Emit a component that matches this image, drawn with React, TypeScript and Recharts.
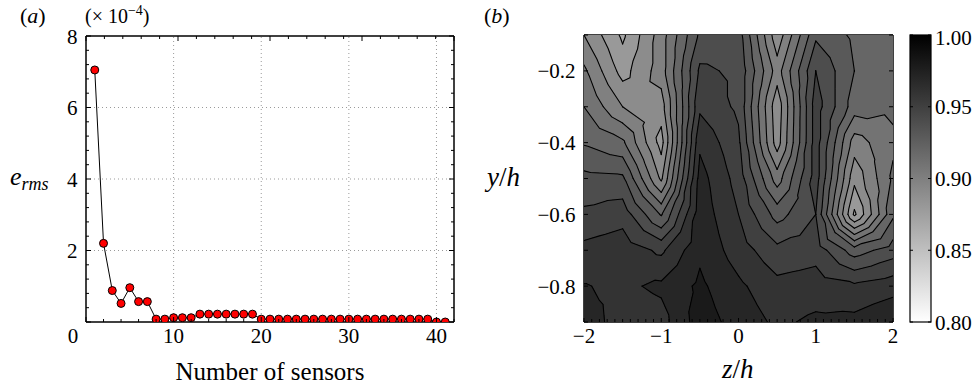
import React from 'react';
import { LineChart, Line, XAxis, YAxis, ReferenceLine, ScatterChart, Scatter } from 'recharts';

const FONT = '"Liberation Serif", "Times New Roman", serif';

// ---------- Panel (a) data ----------
const SENSOR_COUNTS = [1, 2, 3, 4, 5, 6, 7, 8, 9, 10, 11, 12, 13, 14, 15, 16, 17, 18, 19, 20, 21, 22, 23, 24, 25, 26, 27, 28, 29, 30, 31, 32, 33, 34, 35, 36, 37, 38, 39, 40, 41];
const E_RMS = [7.05, 2.2, 0.88, 0.52, 0.96, 0.57, 0.57, 0.08, 0.08, 0.12, 0.12, 0.12,
  0.22, 0.22, 0.22, 0.22, 0.22, 0.22, 0.22,
  0.08, 0.08, 0.08, 0.08, 0.08, 0.08, 0.08, 0.08, 0.08, 0.08, 0.08, 0.08, 0.08, 0.08, 0.08, 0.08, 0.08, 0.08, 0.08, 0.08,
  0.0, 0.0];
const A_X_LABELS = [0, 10, 20, 30, 40];
const A_Y_LABELS = [2, 4, 6, 8];
const A_X_GRID = [10, 20, 30, 40];
const A_Y_GRID = [2, 4, 6];
const A_X_TICKS = [0, 2, 4, 6, 8, 10, 12, 14, 16, 18, 20, 22, 24, 26, 28, 30, 32, 34, 36, 38, 40, 42];
const A_Y_TICKS = [0, 0.4, 0.8, 1.2, 1.6, 2, 2.4, 2.8, 3.2, 3.6, 4, 4.4, 4.8, 5.2, 5.6, 6, 6.4, 6.8, 7.2, 7.6, 8];

// ---------- Panel (b) data ----------
const Z_COORDS = [-2, -1.5, -1, -0.5, 0, 0.5, 1, 1.5, 2];
const Y_COORDS = [-0.1, -0.2, -0.3, -0.4, -0.5, -0.6, -0.7, -0.8, -0.9];
const ROW_Y01 = [0.900, 0.878, 0.905, 0.942, 0.945, 0.893, 0.938, 0.928, 0.926];
const ROW_Y02 = [0.912, 0.886, 0.905, 0.952, 0.948, 0.905, 0.950, 0.930, 0.925];
const ROW_Y03 = [0.920, 0.900, 0.895, 0.958, 0.948, 0.893, 0.955, 0.925, 0.922];
const ROW_Y04 = [0.929, 0.922, 0.886, 0.968, 0.952, 0.895, 0.955, 0.905, 0.918];
const ROW_Y05 = [0.943, 0.942, 0.898, 0.974, 0.956, 0.915, 0.955, 0.893, 0.922];
const ROW_Y06 = [0.952, 0.956, 0.929, 0.976, 0.960, 0.936, 0.950, 0.878, 0.928];
const ROW_Y07 = [0.963, 0.966, 0.958, 0.978, 0.965, 0.953, 0.956, 0.935, 0.945];
const ROW_Y08 = [0.9705, 0.968, 0.972, 0.982, 0.972, 0.963, 0.965, 0.962, 0.966];
const ROW_Y09 = [0.978, 0.963, 0.966, 0.985, 0.976, 0.968, 0.972, 0.973, 0.979];
const GRID = [ROW_Y01, ROW_Y02, ROW_Y03, ROW_Y04, ROW_Y05, ROW_Y06, ROW_Y07, ROW_Y08, ROW_Y09];
const LEVELS = [0.87, 0.88, 0.89, 0.90, 0.91, 0.92, 0.93, 0.94, 0.95, 0.96, 0.97, 0.98];
const B_X_LABELS = [-2, -1, 0, 1, 2];
const B_Y_LABELS = [-0.2, -0.4, -0.6, -0.8];
const CB_TICKS = [0.8, 0.85, 0.9, 0.95, 1.0];

// ---------- layout ----------
const B_PLOT_W = 309;
const B_PLOT_H = 287;
const CELL_W = B_PLOT_W / (Z_COORDS.length - 1);
const CELL_H = B_PLOT_H / (Y_COORDS.length - 1);
const TICK_FS = 21;

const near = (a: number, b: number) => Math.abs(a - b) < 1e-6;
const fmtNum = (v: number, d: number) => (v < 0 ? '\u2212' : '') + Math.abs(v).toFixed(d);

const gray = (v: number) => {
  const g = Math.max(0, Math.min(255, Math.round(255 * (1 - (v - 0.8) / 0.2))));
  return `rgb(${g},${g},${g})`;
};

type Pt = { x: number; y: number; v: number };
function clip(poly: Pt[], level: number, keepAbove: boolean): Pt[] {
  const out: Pt[] = [];
  const inside = (p: Pt) => (keepAbove ? p.v >= level : p.v <= level);
  for (let k = 0; k < poly.length; k++) {
    const a = poly[k];
    const b = poly[(k + 1) % poly.length];
    const ia = inside(a);
    const ib = inside(b);
    if (ia) out.push(a);
    if (ia !== ib) {
      const t = (level - a.v) / (b.v - a.v);
      out.push({ x: a.x + t * (b.x - a.x), y: a.y + t * (b.y - a.y), v: level });
    }
  }
  return out;
}

function cellTriangles(cx: number, cy: number, p: any): Pt[][] {
  const hw = CELL_W / 2;
  const hh = CELL_H / 2;
  const tl = { x: cx - hw, y: cy - hh, v: p.tl };
  const tr = { x: cx + hw, y: cy - hh, v: p.tr };
  const br = { x: cx + hw, y: cy + hh, v: p.br };
  const bl = { x: cx - hw, y: cy + hh, v: p.bl };
  const c = { x: cx, y: cy, v: (p.tl + p.tr + p.br + p.bl) / 4 };
  return [[tl, tr, c], [tr, br, c], [br, bl, c], [bl, tl, c]];
}

const CELLS: any[] = [];
for (let i = 0; i < Y_COORDS.length - 1; i++) {
  for (let j = 0; j < Z_COORDS.length - 1; j++) {
    CELLS.push({
      z: (Z_COORDS[j] + Z_COORDS[j + 1]) / 2,
      y: (Y_COORDS[i] + Y_COORDS[i + 1]) / 2,
      tl: GRID[i][j], tr: GRID[i][j + 1], bl: GRID[i + 1][j], br: GRID[i + 1][j + 1],
    });
  }
}

const ContourFill = (props: any) => {
  const { cx, cy, payload } = props;
  if (cx == null || cy == null) return <g />;
  const bounds = [-Infinity, ...LEVELS, Infinity];
  const paths: React.ReactNode[] = [];
  cellTriangles(cx, cy, payload).forEach((tri, ti) => {
    for (let k = 0; k < bounds.length - 1; k++) {
      const lo = bounds[k];
      const hi = bounds[k + 1];
      let poly = tri;
      if (isFinite(lo)) poly = clip(poly, lo, true);
      if (poly.length >= 3 && isFinite(hi)) poly = clip(poly, hi, false);
      if (poly.length < 3) continue;
      const col = gray(isFinite(lo) ? lo : LEVELS[0] - 0.01);
      const d = poly.map((q, n) => `${n ? 'L' : 'M'}${q.x.toFixed(2)},${q.y.toFixed(2)}`).join(' ') + 'Z';
      paths.push(<path key={`${ti}-${k}`} d={d} fill={col} stroke={col} strokeWidth={1} strokeLinejoin="round" shapeRendering="crispEdges" />);
    }
  });
  return <g>{paths}</g>;
};

const ContourLines = (props: any) => {
  const { cx, cy, payload } = props;
  if (cx == null || cy == null) return <g />;
  let d = '';
  cellTriangles(cx, cy, payload).forEach((tri) => {
    LEVELS.forEach((L) => {
      const pts: { x: number; y: number }[] = [];
      for (let k = 0; k < 3; k++) {
        const a = tri[k];
        const b = tri[(k + 1) % 3];
        if ((a.v >= L) !== (b.v >= L)) {
          const t = (L - a.v) / (b.v - a.v);
          pts.push({ x: a.x + t * (b.x - a.x), y: a.y + t * (b.y - a.y) });
        }
      }
      if (pts.length === 2) {
        d += `M${pts[0].x.toFixed(2)},${pts[0].y.toFixed(2)} L${pts[1].x.toFixed(2)},${pts[1].y.toFixed(2)} `;
      }
    });
  });
  return <path d={d} fill="none" stroke="#000" strokeWidth={1.1} strokeLinecap="round" />;
};

// ---------- tick renderers ----------
const txtStyle = { fontFamily: FONT, fontSize: TICK_FS };
const makeTick = (
  orient: 'left' | 'right' | 'top' | 'bottom',
  labels: number[],
  majorLen: number,
  minorLen: number,
  fmt?: (v: number) => string,
  labelDx?: (v: number) => number,
) => (props: any) => {
  const { x, y, payload } = props;
  const v = payload.value as number;
  const isMajor = labels.some((m) => near(m, v));
  const len = isMajor ? majorLen : minorLen;
  let line;
  let text = null;
  if (orient === 'left') {
    line = <line x1={x} y1={y} x2={x + len} y2={y} stroke="#000" strokeWidth={1} />;
    if (isMajor && fmt) text = <text x={x - 8.5} y={y + 7.5} textAnchor="end" style={txtStyle} fill="#000">{fmt(v)}</text>;
  } else if (orient === 'right') {
    line = <line x1={x} y1={y} x2={x - len} y2={y} stroke="#000" strokeWidth={1} />;
  } else if (orient === 'top') {
    line = <line x1={x} y1={y} x2={x} y2={y + len} stroke="#000" strokeWidth={1} />;
  } else {
    line = <line x1={x} y1={y} x2={x} y2={y - len} stroke="#000" strokeWidth={1} />;
    if (isMajor && fmt) text = <text x={x + (labelDx ? labelDx(v) : 0)} y={y + 21} textAnchor="middle" style={txtStyle} fill="#000">{fmt(v)}</text>;
  }
  return <g>{line}{text}</g>;
};

const B_X_TICKS = Array.from({ length: 41 }, (_, k) => Math.round((-2 + k * 0.1) * 10) / 10);
const B_Y_TICKS = [-0.9, -0.8, -0.7, -0.6, -0.5, -0.4, -0.3, -0.2, -0.1];

export default function App() {
  const dataA = SENSOR_COUNTS.map((n, i) => ({ n, e: E_RMS[i] }));
  const axisLine = { stroke: '#000', strokeWidth: 1.5 };
  const cbTop = 35;
  const cbH = 287;
  const cbY = (v: number) => cbTop + ((1 - v) / 0.2) * cbH;
  return (
    <div style={{ position: 'absolute', left: 0, top: 0, width: 980, height: 387, background: '#fff', overflow: 'hidden' }}>
      {/* Panel (a) */}
      <div style={{ position: 'absolute', left: 0, top: 0 }}>
        <LineChart width={470} height={387} data={dataA} margin={{ top: 35, right: 15, bottom: 0, left: 0 }}>
          <XAxis dataKey="n" type="number" domain={[0, 42]} ticks={A_X_TICKS} interval={0} height={65}
            tickSize={0} tickMargin={0} axisLine={axisLine} tickLine={false}
            tick={makeTick('bottom', A_X_LABELS, 5, 3, (v) => String(v), (v) => (v === 0 ? -13 : 0))} allowDataOverflow />
          <XAxis xAxisId="top" orientation="top" type="number" domain={[0, 42]} ticks={A_X_TICKS} interval={0} height={1}
            tickSize={0} tickMargin={0} axisLine={axisLine} tickLine={false}
            tick={makeTick('top', A_X_LABELS, 5, 3)} allowDataOverflow />
          <YAxis type="number" domain={[0, 8]} ticks={A_Y_TICKS} interval={0} width={86}
            tickSize={0} tickMargin={0} axisLine={axisLine} tickLine={false}
            tick={makeTick('left', A_Y_LABELS.concat([0]), 5, 3, (v) => (v === 0 ? '' : String(v)))} allowDataOverflow />
          <YAxis yAxisId="right" orientation="right" type="number" domain={[0, 8]} ticks={A_Y_TICKS} interval={0} width={1}
            tickSize={0} tickMargin={0} axisLine={axisLine} tickLine={false}
            tick={makeTick('right', A_Y_LABELS.concat([0]), 5, 3)} allowDataOverflow />
          {A_X_GRID.map((g) => (
            <ReferenceLine key={`gx${g}`} x={g} stroke="#9a9a9a" strokeDasharray="1 3" strokeWidth={1} />
          ))}
          {A_Y_GRID.map((g) => (
            <ReferenceLine key={`gy${g}`} y={g} stroke="#9a9a9a" strokeDasharray="1 3" strokeWidth={1} />
          ))}
          <Line dataKey="e" type="linear" stroke="#000" strokeWidth={1} isAnimationActive={false}
            dot={{ r: 4, fill: '#ff0000', stroke: '#000', strokeWidth: 1 }} activeDot={false} />
        </LineChart>
      </div>

      {/* Panel (b) */}
      <div style={{ position: 'absolute', left: 470, top: 0 }}>
        <ScatterChart width={440} height={387} margin={{ top: 34, right: 16, bottom: 0, left: 0 }}>
          <XAxis dataKey="z" type="number" domain={[-2, 2]} ticks={B_X_TICKS} interval={0} height={65}
            tickSize={0} tickMargin={0} axisLine={axisLine} tickLine={false}
            tick={makeTick('bottom', B_X_LABELS, 4, 3, (v) => fmtNum(v, 0))} allowDataOverflow />
          <XAxis xAxisId="top" orientation="top" type="number" domain={[-2, 2]} ticks={B_X_TICKS} interval={0} height={1}
            tickSize={0} tickMargin={0} axisLine={axisLine} tickLine={false}
            tick={makeTick('top', B_X_LABELS, 4, 3)} allowDataOverflow />
          <YAxis dataKey="y" type="number" domain={[-0.9, -0.1]} ticks={B_Y_TICKS} interval={0} width={114}
            tickSize={0} tickMargin={0} axisLine={axisLine} tickLine={false}
            tick={makeTick('left', B_Y_LABELS, 4, 4, (v) => fmtNum(v, 1))} allowDataOverflow />
          <YAxis yAxisId="right" orientation="right" type="number" domain={[-0.9, -0.1]} ticks={B_Y_TICKS} interval={0} width={1}
            tickSize={0} tickMargin={0} axisLine={axisLine} tickLine={false}
            tick={makeTick('right', B_Y_LABELS, 4, 4)} allowDataOverflow />
          <Scatter data={CELLS} isAnimationActive={false} shape={(p: any) => <ContourFill {...p} />} />
          <Scatter data={CELLS} isAnimationActive={false} shape={(p: any) => <ContourLines {...p} />} />
        </ScatterChart>
      </div>

      {/* Colorbar */}
      <svg style={{ position: 'absolute', left: 900, top: 0 }} width={80} height={387}>
        <defs>
          <linearGradient id="cbGrad" x1="0" y1="0" x2="0" y2="1">
            <stop offset="0%" stopColor={gray(1.0)} />
            <stop offset="100%" stopColor={gray(0.8)} />
          </linearGradient>
        </defs>
        <rect x={10} y={cbTop} width={21} height={cbH} fill="url(#cbGrad)" stroke="#000" strokeWidth={1.2} />
        {CB_TICKS.map((t) => (
          <g key={t}>
            <line x1={10} x2={13} y1={cbY(t)} y2={cbY(t)} stroke="#000" strokeWidth={1} />
            <line x1={31} x2={28} y1={cbY(t)} y2={cbY(t)} stroke="#000" strokeWidth={1} />
            <text x={35} y={Math.max(cbY(t) + 7.5, 45)} style={txtStyle} fill="#000">{t.toFixed(2)}</text>
          </g>
        ))}
      </svg>

      {/* Text labels */}
      <svg style={{ position: 'absolute', left: 0, top: 0, pointerEvents: 'none' }} width={980} height={387}>
        <g style={{ fontFamily: FONT }} fill="#000">
          <text x={20} y={23} fontSize={22}>(<tspan fontStyle="italic">a</tspan>)</text>
          <text x={85} y={23} fontSize={20}>(× 10<tspan fontSize={14} dy={-8}>−4</tspan><tspan dy={8}>)</tspan></text>
          <text x={10} y={185} fontSize={26} fontStyle="italic">e<tspan fontSize={18} dy={5}>rms</tspan></text>
          <text x={270} y={380} fontSize={25} textAnchor="middle">Number of sensors</text>
          <text x={484} y={23} fontSize={22}>(<tspan fontStyle="italic">b</tspan>)</text>
          <text x={487} y={186} fontSize={27}><tspan fontStyle="italic">y</tspan>/<tspan fontStyle="italic">h</tspan></text>
          <text x={722} y={378} fontSize={27}><tspan fontStyle="italic">z</tspan>/<tspan fontStyle="italic">h</tspan></text>
        </g>
      </svg>
    </div>
  );
}
